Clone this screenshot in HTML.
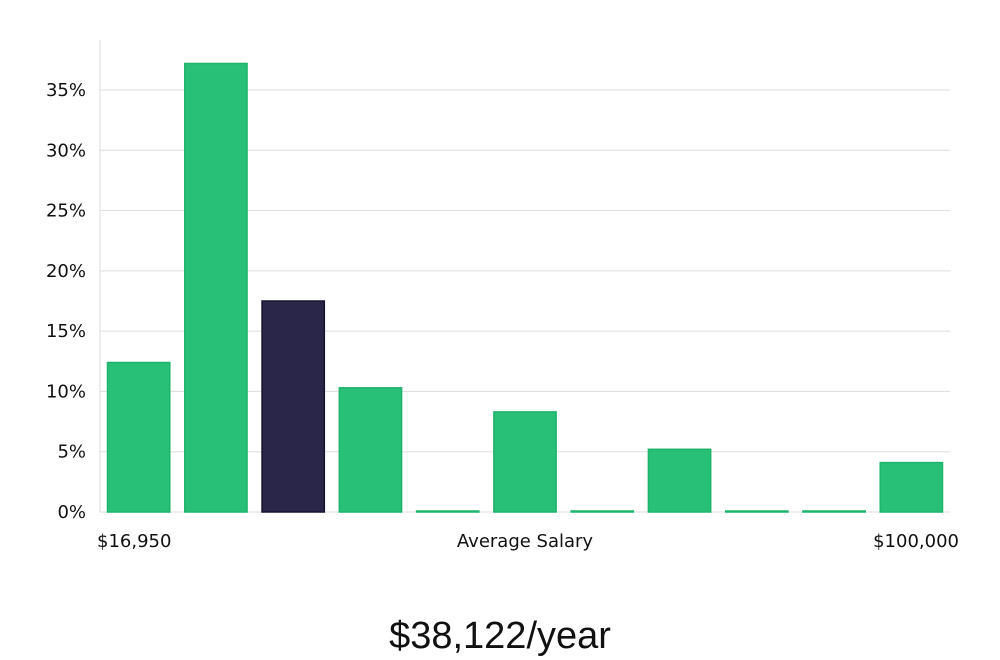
<!DOCTYPE html>
<html><head><meta charset="utf-8"><style>
html,body{margin:0;padding:0;background:#fff;width:1000px;height:660px;overflow:hidden}
svg text{font-family:"DejaVu Sans","Liberation Sans",sans-serif;fill:#111}
</style></head><body>
<svg id="chart" width="1000" height="660" xmlns="http://www.w3.org/2000/svg">
<g id="grid"></g>
<g id="bars"></g>
<g id="yt"></g>
<line x1="100" y1="40" x2="100" y2="512" stroke="#ddd" stroke-width="1"/>
<text x="97" y="547" font-size="18">$16,950</text>
<text x="525" y="547" font-size="18" text-anchor="middle">Average Salary</text>
<text x="959" y="547" font-size="18" text-anchor="end">$100,000</text>
<text x="500" y="648" font-size="38" text-anchor="middle" style="font-family:'Liberation Sans',sans-serif;font-weight:300;fill:#111">$38,122/year</text>
</svg>
<script>
const categories=["b1","b2","b3","b4","b5","b6","b7","b8","b9","b10","b11"];
const values=[12.4,37.2,17.5,10.3,0,8.3,0,5.2,0,0,4.1];
const highlight=[false,false,true,false,false,false,false,false,false,false,false];
const ticks=[0,5,10,15,20,25,30,35];
const NS="http://www.w3.org/2000/svg";
const x0=100,x1=950,y0=512,pxPer=(512-90)/35;
const yS=v=>y0-v*pxPer;
const slot=(x1-x0)/categories.length;
const g=document.getElementById('grid'),yt=document.getElementById('yt'),b=document.getElementById('bars');
ticks.forEach(t=>{
 const l=document.createElementNS(NS,'line');
 
 
 l.setAttribute('x1',x0);l.setAttribute('x2',x1);l.setAttribute('y1',yS(t));l.setAttribute('y2',yS(t));
 l.setAttribute('stroke','#ddd');g.appendChild(l);
 const tx=document.createElementNS(NS,'text');
 
 
 tx.setAttribute('x',86);tx.setAttribute('y',yS(t)+6);tx.setAttribute('text-anchor','end');tx.setAttribute('font-size','18');
 tx.textContent=t+'%';yt.appendChild(tx);
});
values.forEach((v,i)=>{
 const r=document.createElementNS(NS,'rect');
 
 
 const h=Math.max(v*pxPer,1);
 r.setAttribute('x',x0+i*slot+7.5);r.setAttribute('width',slot-15);
 r.setAttribute('y',y0-h);r.setAttribute('height',h);
 r.setAttribute('fill',highlight[i]?'#29264a':'#28bf77');
 r.setAttribute('stroke',highlight[i]?'#15132f':'#1fb46c');r.setAttribute('stroke-width','1.5');
 b.appendChild(r);
});
</script>
</body></html>
